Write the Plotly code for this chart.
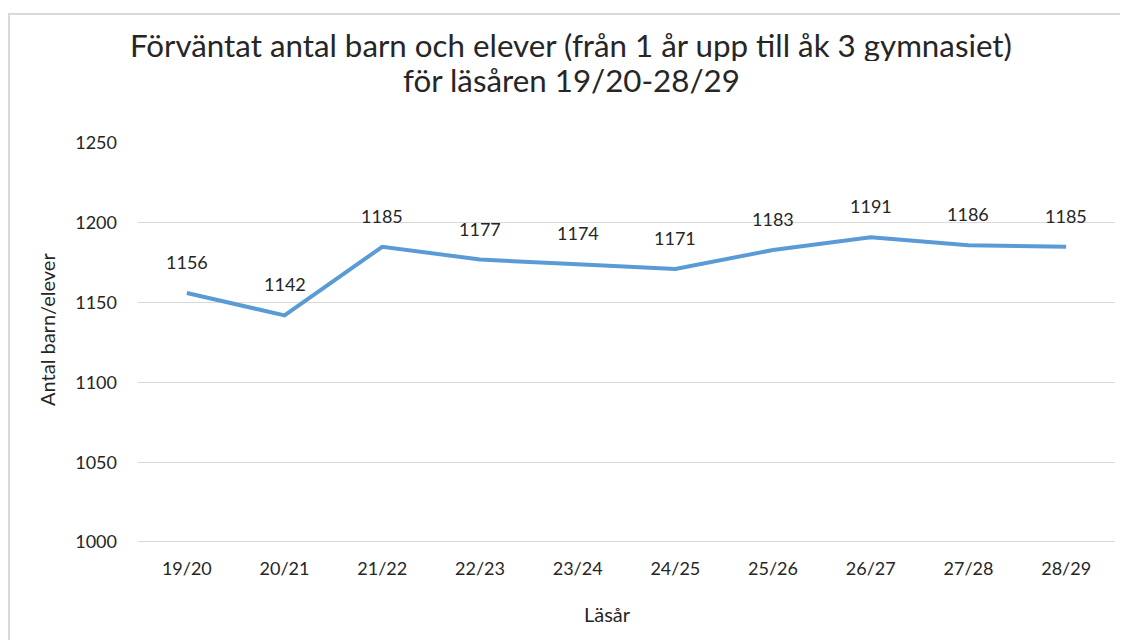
import plotly.graph_objects as go

categories = ["19/20", "20/21", "21/22", "22/23", "23/24", "24/25", "25/26", "26/27", "27/28", "28/29"]
values = [1156, 1142, 1185, 1177, 1174, 1171, 1183, 1191, 1186, 1185]
y_ticks = [1000, 1050, 1100, 1150, 1200, 1250]
title_lines = ["Förväntat antal barn och elever (från 1 år upp till åk 3 gymnasiet)",
               "för läsåren 19/20-28/29"]

FONT = "Lato, Calibri, Carlito, sans-serif"
TXT = "#262626"
OFF = 8  # page body margin offset in screenshot
W, H = 1128 - OFF, 640 - OFF
ML, MT = 138 - OFF, 143 - OFF
MR = W - (1115 - OFF)
MB = H - (542 - OFF)
pw = W - ML - MR
ph = H - MT - MB


def px_x(p):  # screen pixel -> paper
    return (p - OFF - ML) / pw


def px_y(p):
    return (H - MB - (p - OFF)) / ph


fig = go.Figure()
fig.add_trace(go.Scatter(
    x=list(range(len(categories))), y=values, mode="lines",
    line=dict(color="#5B9BD5", width=4), hoverinfo="x+y", showlegend=False,
))

for i, v in enumerate(values):
    fig.add_annotation(x=i, y=v, text=str(v), showarrow=False, yshift=31,
                       font=dict(family=FONT, size=18, color=TXT))

for line, cy in zip(title_lines, [45, 79]):
    fig.add_annotation(xref="paper", yref="paper", x=px_x(571), y=px_y(cy),
                       xanchor="center", yanchor="middle", text=line, showarrow=False,
                       height=33, valign="middle",
                       font=dict(family=FONT, size=31.3, color=TXT))

fig.add_annotation(xref="paper", yref="paper", x=px_x(607), y=px_y(614),
                   xanchor="center", yanchor="middle", text="Läsår", showarrow=False,
                   font=dict(family=FONT, size=20, color=TXT))
fig.add_annotation(xref="paper", yref="paper", x=px_x(47), y=px_y(330),
                   xanchor="center", yanchor="middle", text="Antal barn/elever", showarrow=False,
                   textangle=-90, font=dict(family=FONT, size=20, color=TXT))

fig.add_shape(type="rect", xref="paper", yref="paper",
              x0=px_x(OFF + 1), x1=px_x(1128 + 20),
              y0=px_y(640 + 20), y1=px_y(14),
              line=dict(color="#d9d9d9", width=2), fillcolor="rgba(0,0,0,0)", layer="below")

fig.update_layout(
    width=W, height=H,
    margin=dict(l=ML, r=MR, t=MT, b=MB, autoexpand=False),
    paper_bgcolor="white", plot_bgcolor="white",
    font=dict(family=FONT, color=TXT),
)
fig.update_xaxes(
    range=[-0.5, len(categories) - 0.5], automargin=False,
    tickmode="array", tickvals=list(range(len(categories))), ticktext=categories,
    showgrid=False, zeroline=False, showline=False, ticks="",
    tickfont=dict(family=FONT, size=18, color=TXT), ticklabelstandoff=14,
)
fig.update_yaxes(
    range=[1000, 1250], tickvals=y_ticks, automargin=False,
    showgrid=True, gridcolor="#d9d9d9", gridwidth=1, zeroline=False, showline=False, ticks="",
    tickfont=dict(family=FONT, size=18, color=TXT), ticklabelstandoff=20,
)
fig.add_hline(y=1000, line=dict(color="#d9d9d9", width=2), layer="below")

fig.write_html("out.html")
